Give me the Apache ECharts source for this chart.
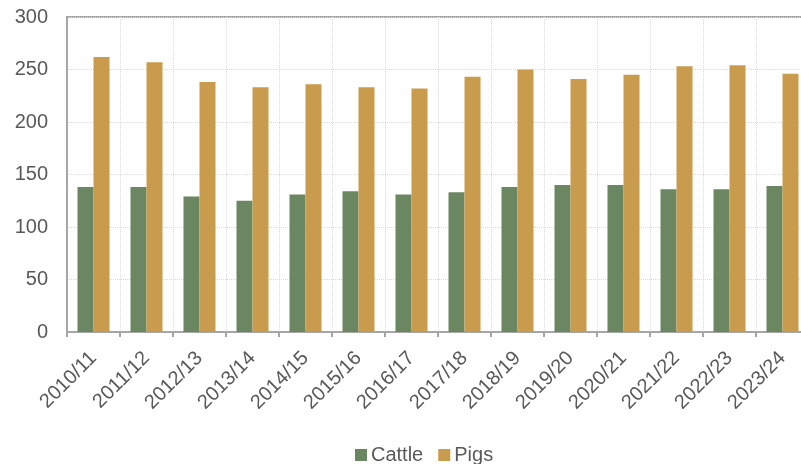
<!DOCTYPE html>
<html>
<head>
<meta charset="utf-8">
<script src="https://cdn.jsdelivr.net/npm/echarts@6/dist/echarts.min.js"></script>
<style>
  html, body { margin: 0; padding: 0; background: #fff; }
  #chart { width: 801px; height: 464px; }
</style>
</head>
<body>
<div id="chart"></div>
<script>
// 年度
const seasons = [
  "2010/11", "2011/12", "2012/13", "2013/14", "2014/15", "2015/16", "2016/17",
  "2017/18", "2018/19", "2019/20", "2020/21", "2021/22", "2022/23", "2023/24",
];
const cattle = [138, 138, 129, 125, 131, 134, 131, 133, 138, 140, 140, 136, 136, 139];
const pigs = [262, 257, 238, 233, 236, 233, 232, 243, 250, 241, 245, 253, 254, 246];

const FONT = "'Liberation Sans', Arial, sans-serif";
const TEXT_COLOR = "#595959";
const AXIS_COLOR = "#a6a6a6";
const GRID_COLOR = "#d9d9d9";

const chart = echarts.init(document.getElementById("chart"));

const option = {
  animation: false,
  textStyle: { fontFamily: FONT, color: TEXT_COLOR },
  grid: {
    left: 67,
    top: 17,
    width: 742, // 右侧超出画布
    height: 315,
    show: true,
    borderColor: AXIS_COLOR,
    borderWidth: 2,
    containLabel: false,
    outerBoundsMode: "none",
  },
  legend: {
    top: 440,
    left: 350,
    itemWidth: 12,
    itemHeight: 12,
    itemGap: 15,
    icon: "rect",
    textStyle: { fontSize: 20, color: TEXT_COLOR, fontFamily: FONT, padding: [0, 0, 0, -1] },
    data: ["Cattle", "Pigs"],
  },
  xAxis: {
    type: "category",
    data: seasons,
    axisLine: { lineStyle: { color: AXIS_COLOR, width: 2 } },
    axisTick: { show: true, length: 5, lineStyle: { color: AXIS_COLOR, width: 2 } },
    splitLine: { show: true, lineStyle: { color: GRID_COLOR, type: "dotted", width: 1 } },
    axisLabel: {
      rotate: 45,
      interval: 0,
      margin: 23,
      fontSize: 20,
      color: TEXT_COLOR,
      fontFamily: FONT,
    },
  },
  yAxis: {
    type: "value",
    min: 0,
    max: 300,
    interval: 50,
    axisLine: { show: true, lineStyle: { color: AXIS_COLOR, width: 2 } },
    axisTick: { show: false },
    splitLine: { lineStyle: { color: GRID_COLOR, type: "dotted", width: 1 } },
    axisLabel: { margin: 19, fontSize: 20, color: TEXT_COLOR, fontFamily: FONT },
  },
  series: [
    {
      name: "Cattle",
      type: "bar",
      data: cattle,
      barWidth: 16,
      barGap: "0%",
      itemStyle: { color: "#6b8762" },
    },
    {
      name: "Pigs",
      type: "bar",
      data: pigs,
      barWidth: 16,
      barGap: "0%",
      itemStyle: { color: "#c99b4c" },
    },
  ],
};

chart.setOption(option);
</script>
</body>
</html>
